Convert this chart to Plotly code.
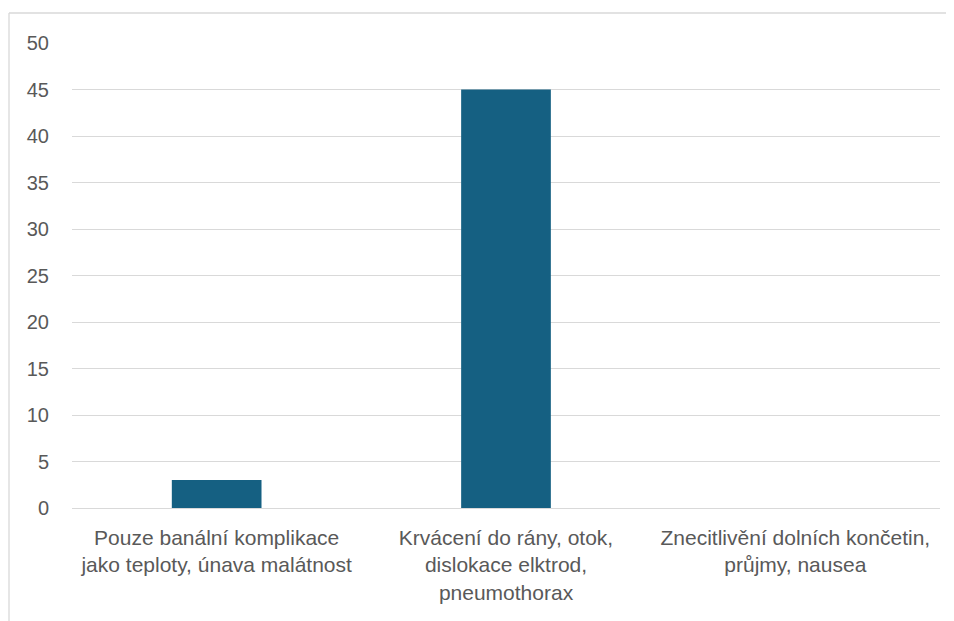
import plotly.graph_objects as go

categories = [
    "Pouze banální komplikace<br>jako teploty, únava malátnost",
    "Krvácení do rány, otok,<br>dislokace elktrod,<br>pneumothorax",
    "Znecitlivění dolních končetin,<br>průjmy, nausea",
]
values = [3, 45, 0]
y_ticks = [0, 5, 10, 15, 20, 25, 30, 35, 40, 45, 50]

OFF = 8  # page body margin
W, H = 954 - OFF, 621 - OFF
L, R, T, B = 72 - OFF, 14, 43 - OFF, 113
pw, ph = W - L - R, H - T - B

fig = go.Figure(go.Bar(
    x=categories, y=values, marker_color="#156082",
    marker_line_width=0, width=0.31,
))

yfont = dict(family="Liberation Sans, Arial, sans-serif", size=20, color="#595959")
xfont = dict(family="Liberation Sans, Arial, sans-serif", size=21, color="#595959")

fig.update_layout(
    width=W, height=H,
    margin=dict(l=L, r=R, t=T, b=B, autoexpand=False),
    paper_bgcolor="white", plot_bgcolor="white",
    font=yfont, showlegend=False,
    xaxis=dict(showgrid=False, showline=False, ticks="", tickfont=xfont,
               ticklabelstandoff=15, fixedrange=True),
    yaxis=dict(range=[0, 50], tickvals=y_ticks, showgrid=True,
               gridcolor="#D9D9D9", gridwidth=1.3, zeroline=True,
               zerolinecolor="#D9D9D9", zerolinewidth=1.3,
               showline=False, ticks="", tickfont=yfont,
               ticklabelstandoff=22),
    shapes=[
        dict(type="line", xref="paper", yref="paper",
             x0=(1 - L) / pw, x1=(W + 5 - L) / pw,
             y0=1 + (T - 5) / ph, y1=1 + (T - 5) / ph,
             line=dict(color="#D9D9D9", width=1.3)),
        dict(type="line", xref="paper", yref="paper",
             x0=(1 - L) / pw, x1=(1 - L) / pw,
             y0=1 + (T - 5) / ph, y1=-(B + 10) / ph,
             line=dict(color="#D9D9D9", width=1.3)),
    ],
)

fig.write_html("out.html")
